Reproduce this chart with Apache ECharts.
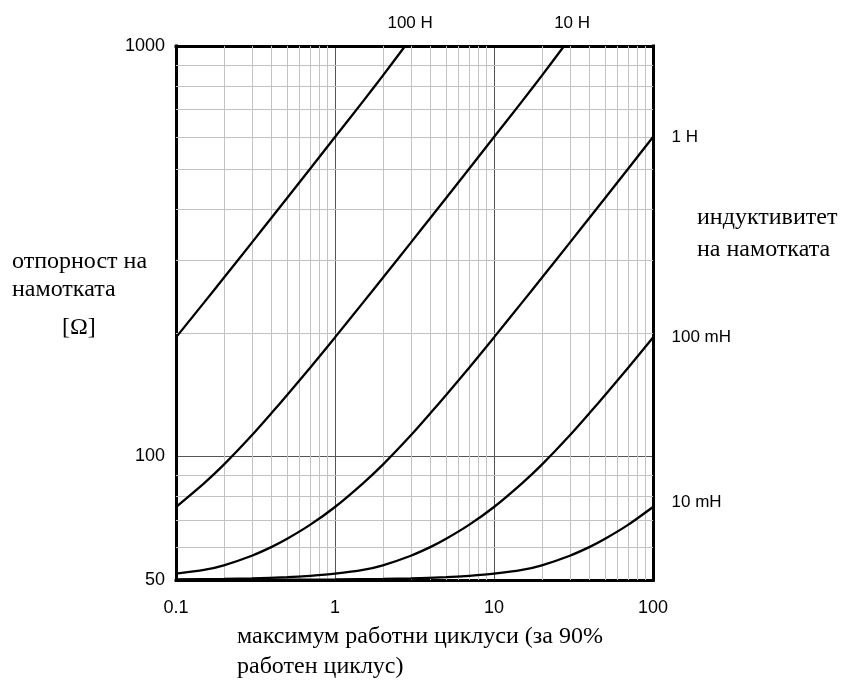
<!DOCTYPE html>
<html><head><meta charset="utf-8">
<script src="https://cdn.jsdelivr.net/npm/echarts@6/dist/echarts.min.js"></script>
<style>html,body{margin:0;padding:0;background:#fff}#c{width:841px;height:686px}</style>
</head><body><div id="c"></div>
<script>
// ---- data ----
const curveNames = ['100 H', '10 H', '1 H', '100 mH', '10 mH'];
const x100H = [0.1, 0.15, 0.2, 0.3, 0.4, 0.5, 0.7, 1, 1.5, 2, 2.76];
const y100H = [195, 237, 272.4, 331.8, 382.2, 426.4, 503, 600, 733, 847, 1000];
const x10H = [0.1, 0.15, 0.2, 0.3, 0.4, 0.5, 0.7, 1, 1.5, 2, 3, 4, 5, 7, 10, 15, 20, 27.6];
const y10H = [75.3, 86.0, 95.5, 112.6, 127.7, 141.2, 164.7, 195, 237, 272.4, 331.8, 382.2, 426.4, 503, 600, 733, 847, 1000];
const x1H = [0.1, 0.15, 0.2, 0.3, 0.4, 0.5, 0.7, 1, 1.5, 2, 3, 4, 5, 7, 10, 15, 20, 30, 40, 50, 70, 100];
const y1H = [51.8, 52.9, 54.3, 57.3, 60.2, 63.0, 68.2, 75.3, 86.0, 95.5, 112.6, 127.7, 141.2, 164.7, 195, 237, 272.4, 331.8, 382.2, 426.4, 503, 600];
const x100mH = [0.1, 0.2, 0.3, 0.5, 0.7, 1, 1.5, 2, 3, 4, 5, 7, 10, 15, 20, 30, 40, 50, 70, 100];
const y100mH = [50.15, 50.3, 50.45, 50.8, 51.2, 51.8, 52.9, 54.3, 57.3, 60.2, 63.0, 68.2, 75.3, 86.0, 95.5, 112.6, 127.7, 141.2, 164.7, 195];
const x10mH = [0.1, 0.2, 0.5, 1, 2, 3, 5, 7, 10, 15, 20, 30, 40, 50, 70, 100];
const y10mH = [50.02, 50.03, 50.08, 50.15, 50.3, 50.45, 50.8, 51.2, 51.8, 52.9, 54.3, 57.3, 60.2, 63.0, 68.2, 75.3];

const xTickLabels = ['0.1', '1', '10', '100'];
const yTickLabels = ['50', '100', '1000'];
const xMinorGrid = [0.2,0.3,0.4,0.5,0.6,0.7,0.8,0.9, 2,3,4,5,6,7,8,9, 20,30,40,50,60,70,80,90];
const yMinorGrid = [60,70,80,90, 200,300,400,500,600,700,800,900];

const xTitle = 'максимум работни циклуси (за 90%\nработен циклус)';
const yTitle = 'отпорност на\nнамотката';
const yUnit = '[Ω]';
const sideTitle = 'индуктивитет\nна намотката';

// ---- chart ----
const xs = [x100H, x10H, x1H, x100mH, x10mH];
const ys = [y100H, y10H, y1H, y100mH, y10mH];
const sans = 'Liberation Sans, Arial, sans-serif';
const serif = 'Liberation Serif, Times New Roman, serif';

const labelPlacement = [
  {position: 'top', distance: 14, offset: [5, 0]},
  {position: 'top', distance: 14, offset: [8, 0]},
  {position: 'right', distance: 18, offset: [0, 0]},
  {position: 'right', distance: 18, offset: [0, 0]},
  {position: 'right', distance: 18, offset: [0, -5]}
];

function pickLabel(list, v) {
  let best = '', bd = Infinity;
  list.forEach(s => { const d = Math.abs(Math.log10(parseFloat(s)) - Math.log10(v)); if (d < bd) { bd = d; best = s; } });
  return bd < 0.01 ? best : '';
}

const frameLine = {show: true, onZero: false, lineStyle: {color: '#000', width: 3, cap: 'square'}};

const series = curveNames.map((name, i) => {
  const data = xs[i].map((x, k) => [x, ys[i][k]]);
  const last = data[data.length - 1];
  return {
    name, type: 'line', data, smooth: 0.25, showSymbol: false, symbol: 'none',
    lineStyle: {color: '#000', width: 2.3}, z: 5, silent: true,
    markPoint: {
      silent: true, symbol: 'circle', symbolSize: 1,
      itemStyle: {color: 'rgba(0,0,0,0)'},
      label: Object.assign({show: true, formatter: name, fontFamily: sans, fontSize: 17, color: '#000'}, labelPlacement[i]),
      data: [{coord: last}]
    }
  };
});

series.push({
  type: 'line', data: [], silent: true, z: 1, symbol: 'none',
  markLine: {
    silent: true, symbol: ['none', 'none'], label: {show: false}, animation: false,
    lineStyle: {color: '#c2c2c2', width: 1, type: 'solid'},
    emphasis: {disabled: true},
    data: xMinorGrid.map(v => ({xAxis: v})).concat(yMinorGrid.map(v => ({yAxis: v})))
  }
});

const titleStyle = {fontFamily: serif, fontSize: 24, fontWeight: 'normal', color: '#000'};
const chart = echarts.init(document.getElementById('c'));
chart.setOption({
  animation: false,
  backgroundColor: '#fff',
  grid: {left: 176, top: 46, width: 477, height: 534},
  title: [
    {text: yTitle, left: 12, top: 248, padding: 0, textStyle: Object.assign({lineHeight: 28}, titleStyle)},
    {text: yUnit, left: 62, top: 316, padding: 0, textStyle: Object.assign({lineHeight: 24}, titleStyle)},
    {text: sideTitle, left: 697, top: 202, padding: 0, textStyle: Object.assign({lineHeight: 32}, titleStyle)},
    {text: xTitle, left: 237, top: 622, padding: 0, textStyle: Object.assign({lineHeight: 30}, titleStyle)}
  ],
  xAxis: [
    {type: 'log', logBase: 10, min: 0.1, max: 100, position: 'bottom',
     axisLine: frameLine, axisTick: {show: false},
     axisLabel: {fontFamily: sans, fontSize: 18, color: '#000', margin: 19, formatter: v => pickLabel(xTickLabels, v)},
     splitLine: {show: true, lineStyle: {color: '#555', width: 1}}},
    {type: 'log', logBase: 10, min: 0.1, max: 100, position: 'top',
     axisLine: frameLine, axisTick: {show: false}, axisLabel: {show: false}, splitLine: {show: false}}
  ],
  yAxis: [
    {type: 'log', logBase: 10, min: 50, max: 1000, position: 'left',
     axisLine: frameLine, axisTick: {show: false},
     axisLabel: {fontFamily: sans, fontSize: 18, color: '#000', margin: 11, formatter: v => pickLabel(yTickLabels, v)},
     splitLine: {show: true, lineStyle: {color: '#555', width: 1}}},
    {type: 'log', logBase: 10, min: 50, max: 1000, position: 'right',
     axisLine: frameLine, axisTick: {show: false}, axisLabel: {show: false}, splitLine: {show: false}}
  ],
  series
});
</script>
</body></html>
